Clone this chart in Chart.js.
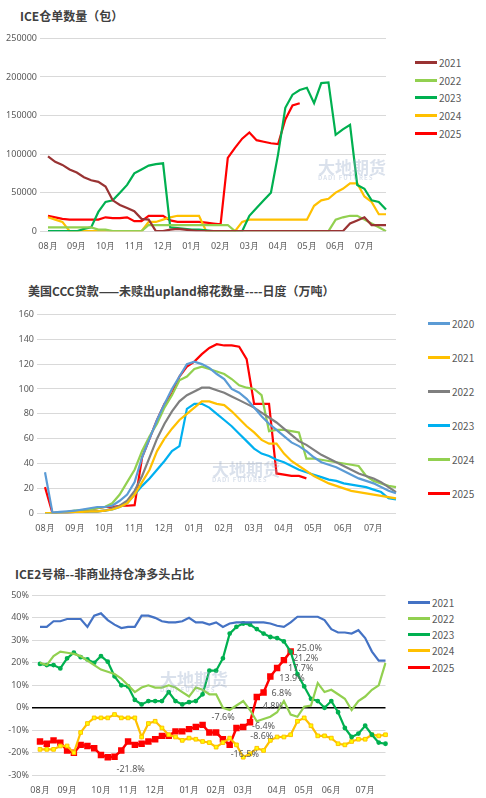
<!DOCTYPE html>
<html>
<head>
<meta charset="utf-8">
<script src="https://cdn.jsdelivr.net/npm/chart.js@4.4.1/dist/chart.umd.min.js"></script>
<style>
  body { margin: 0; background: #fff; font-family: "Noto Sans CJK SC", "Noto Sans", sans-serif; }
  .wrap { position: relative; width: 486px; height: 798px; overflow: hidden; }
  .title { position: absolute; font-size: 12px; font-weight: bold; color: #404040; white-space: nowrap; }
  canvas { position: absolute; }
  .legend { position: absolute; font-size: 10px; color: #595959; }
  .legend div { position: absolute; white-space: nowrap; display: flex; align-items: center; }
  .legend i { display: inline-block; width: 22px; height: 3px; margin-right: 2px; }
  .wm { position: absolute; color: rgba(150,170,200,0.35); font-weight: bold; white-space: nowrap; line-height: 1; }
  .wm small { display: block; font-size: 6px; letter-spacing: 1px; }
</style>
</head>
<body>
<div class="wrap">
  <div class="title" style="left:20px;top:7px">ICE仓单数量（包）</div>
  <canvas id="c1" style="left:0;top:30px" width="392" height="224"></canvas>
  <div class="legend" id="lg1" style="left:415px;top:0"></div>
  <div class="wm" style="left:318px;top:158px;font-size:17px">大地期货<small>DADI FUTURES</small></div>

  <div class="title" style="left:28px;top:282px">美国CCC贷款——未赎出upland棉花数量----日度（万吨）</div>
  <canvas id="c2" style="left:0;top:306px" width="402" height="230"></canvas>
  <div class="legend" id="lg2" style="left:428px;top:0"></div>
  <div class="wm" style="left:212px;top:460px;font-size:17px">大地期货<small>DADI FUTURES</small></div>

  <div class="title" style="left:15px;top:565px">ICE2号棉--非商业持仓净多头占比</div>
  <canvas id="c3" style="left:0;top:587px" width="392" height="211"></canvas>
  <div class="legend" id="lg3" style="left:408px;top:0"></div>
  <div class="wm" style="left:160px;top:670px;font-size:17px">大地期货<small>DADI FUTURES</small></div>
</div>
<script>
const months = ['08月', '09月', '10月', '11月', '12月', '01月', '02月', '03月', '04月', '05月', '06月', '07月'];

// ICE certificated stocks (bales), weekly, Aug -> Jul
const ice2021 = [97000, 90000, 86000, 80000, 76000, 70000, 66000, 64000, 58000, 40000, 34000, 30000, 26000, 16000, 15000, 0, 0, 2000, 3000, 2000, 1000, 0, 0, 0, 0, 0, 0, 0, 0, 0, 0, 0, 0, 0, 0, 0, 0, 0, 0, 0, 0, 0, 10000, 14000, 18000, 8000, 8000, 8000];
const ice2022 = [5000, 5000, 5000, 5000, 5000, 5000, 5000, 2000, 2000, 0, 0, 0, 0, 0, 8000, 8000, 8000, 8000, 8000, 8000, 8000, 8000, 8000, 8000, 8000, 8000, 0, 0, 0, 0, 0, 0, 0, 0, 0, 0, 0, 0, 0, 0, 15000, 18000, 20000, 20000, 15000, 10000, 5000, 0];
const ice2023 = [0, 0, 0, 0, 0, 3000, 5000, 25000, 38000, 40000, 50000, 60000, 75000, 80000, 85000, 87000, 88000, 5000, 4000, 3000, 2000, 2000, 1000, 0, 0, 0, 0, 0, 20000, 30000, 40000, 50000, 100000, 160000, 177000, 183000, 186000, 166000, 192000, 193000, 125000, 132000, 138000, 60000, 55000, 40000, 38000, 28000];
const ice2024 = [18000, 15000, 12000, 0, 0, 0, 0, 0, 0, 0, 0, 0, 0, 0, 12000, 12000, 15000, 18000, 20000, 20000, 20000, 20000, 0, 0, 0, 0, 0, 12000, 15000, 15000, 15000, 15000, 15000, 15000, 15000, 15000, 15000, 33000, 40000, 42000, 50000, 55000, 62000, 62000, 45000, 38000, 22000, 22000];
const ice2025 = [20000, 18000, 16000, 15000, 15000, 15000, 15000, 15000, 18000, 17000, 17000, 18000, 13000, 13000, 20000, 20000, 20000, 14000, 12000, 12000, 12000, 12000, 11000, 10000, 9000, 95000, 108000, 120000, 128000, 118000, 116000, 114000, 113000, 145000, 163000, 166000];

// CCC loans outstanding (10k tons)
const ccc2020 = [33, 0.5, 1, 1.5, 2, 3, 4, 5, 5, 6, 10, 15, 25, 45, 60, 75, 88, 100, 110, 120, 122, 120, 117, 112, 108, 100, 97, 92, 85, 78, 72, 67, 62, 57, 54, 50, 45, 41, 39, 37, 34, 31, 28, 26, 24, 21, 18, 16];
const ccc2021 = [0, 0, 0.5, 0.5, 1, 1, 1.5, 1.5, 2, 3, 5, 8, 15, 25, 35, 50, 60, 68, 75, 80, 85, 90, 90, 88, 87, 82, 76, 70, 65, 59, 56, 56, 48, 42, 38, 34, 30, 27, 24, 22, 20, 18, 17, 16, 15, 14, 13, 12];
const ccc2022 = [0, 0, 0.5, 0.5, 1, 1, 1.5, 1.5, 2, 4, 6, 10, 18, 30, 45, 60, 72, 82, 90, 95, 98, 101, 101, 99, 97, 94, 91, 88, 85, 81, 77, 73, 68, 63, 58, 55, 51, 47, 44, 41, 38, 35, 32, 30, 28, 25, 21, 17];
const ccc2023 = [0, 0, 0.5, 0.5, 1, 1, 1.5, 1.5, 2, 3, 5, 8, 15, 22, 28, 35, 42, 50, 54, 84, 88, 88, 85, 80, 75, 70, 64, 58, 52, 48, 46, 43, 41, 38, 35, 33, 31, 29, 27, 26, 24, 23, 22, 21, 19, 17, 12, 11];
const ccc2024 = [0, 0, 0.5, 1, 2, 2.5, 3, 4, 5, 8, 15, 25, 35, 50, 62, 72, 85, 95, 107, 110, 116, 118, 116, 114, 112, 108, 103, 101, 100, 95, 66, 67, 67, 66, 65, 44, 44, 43, 42, 41, 40, 39, 38, 30, 26, 24, 22, 21];
const ccc2025 = [21, 0, 0.5, 0.5, 1, 2, 3, 4, 5, 5, 6, 6, 6.5, 45, 60, 75, 88, 96, 110, 118, 122, 128, 133, 136, 135, 135, 134, 124, 88, 88, 88, 32, 31, 30, 30, 28];

// ICE No.2 non-commercial net long ratio (%), weekly
const cot2021 = [36, 36, 38.5, 38.5, 39.5, 39.5, 39.5, 36, 41, 42, 39, 37, 35.5, 36, 36, 41, 41, 40, 38.5, 38, 38, 38.5, 40, 38, 38, 37, 38, 36, 37.5, 38, 38, 38, 38, 38, 37.5, 36.5, 36, 38, 40.5, 40.5, 40.5, 40.5, 39, 35, 33.5, 33.5, 33, 34.5, 31, 25, 21, 21];
const cot2022 = [20, 19, 23, 25, 24.5, 24, 23, 21, 19, 17, 16, 15, 13, 10, 7, 9, 10, 9, 9, 10, 9, 7, 5, 9, 8, 6, 6, 0, -1, 1, 3, -1, -6, -5, -4, -2, 3, -3, -4, 0.5, 1, 11, 7, 8, 6, 4, -1, 3, 5, 8, 10, 20];
const cot2023 = [19.5, 19, 19, 17.5, 22, 24.5, 22.5, 21.5, 20, 23, 20.5, 14, 10, 9.5, 3.5, 1.5, 3, 3, 3, 7, 3, 1.5, 2.5, 3, 6, 16.5, 16.5, 22, 33, 36, 37.5, 37, 35, 33, 31.5, 31, 29.5, 25, 15, 9.5, 4, 3, 0, 3, -2, -9, -13, -11.5, -8, -12, -15.5, -16];
const cot2024 = [-18.5, -18.5, -18.5, -17, -17, -20, -11, -7, -4.5, -4.5, -4.5, -3, -4.5, -4.5, -4.5, -13, -7, -6, -9, -12, -13, -14.5, -13.5, -14, -15, -15.5, -17.5, -15.5, -13.5, -16.5, -22, -20.5, -18, -19, -14.5, -13, -13, -12, -6, -4.5, -8, -12.5, -12.5, -13.5, -16, -16.5, -15, -14, -14, -12, -12.5, -12];
const cot2025 = [-15, -16, -14.5, -15.5, -19, -20, -16.5, -17, -18, -21, -22, -21.8, -19, -15, -16.5, -16, -15, -14, -12.5, -12.5, -10.5, -10.5, -9.5, -8.5, -7.6, -11, -11, -14, -16.5, -9, -8.6, -6.4, 4.8, 6.8, 13.9, 17.7, 21.2, 25.0];
const cot2025Labelled = [11, 24, 28, 30, 31, 32, 33, 34, 35, 36, 37];

// label offsets (px) for 2025 data labels
const labelOffsets = {11: [2, 13], 24: [9, -7], 28: [1, 10], 30: [7, 9], 31: [2, 4], 32: [6, 9], 33: [8, 1], 34: [9, 2], 35: [11, 0], 36: [9, -2], 37: [6, -3]};

function weekLabels(n) {
    const labels = new Array(n).fill('');
    months.forEach((m, i) => { labels[Math.round(i * n / 12)] = m; });
    return labels;
}

const tickFont = { family: 'Noto Sans', size: 9 };
const gridColor = '#d9d9d9';

function line(label, data, color, extra) {
    return Object.assign({
        label: label, data: data, borderColor: color, backgroundColor: color,
        borderWidth: 2.2, pointRadius: 0, tension: 0, fill: false
    }, extra || {});
}

function baseOptions(yOpts, yWidth) {
    return {
        responsive: false,
        animation: false,
        layout: { padding: { top: 6, right: 6 } },
        plugins: { legend: { display: false }, tooltip: { enabled: false } },
        scales: {
            x: {
                grid: { display: false },
                border: { display: false },
                ticks: { autoSkip: false, maxRotation: 0, color: '#595959', font: tickFont, padding: 2 }
            },
            y: Object.assign({
                border: { display: false },
                afterFit: (s) => { s.width = yWidth; }
            }, yOpts)
        }
    };
}

function buildLegend(id, datasets, tops) {
    const el = document.getElementById(id);
    datasets.forEach((d, i) => {
        const row = document.createElement('div');
        row.style.top = tops[i] + 'px';
        row.innerHTML = `<i style="background:${d.borderColor}"></i>${d.label}`;
        el.appendChild(row);
    });
}

// chart 1
const ds1 = [
    line('2021', ice2021, '#993333'),
    line('2022', ice2022, '#92d050'),
    line('2023', ice2023, '#00b050'),
    line('2024', ice2024, '#ffc000'),
    line('2025', ice2025, '#ff0000')
];
new Chart(document.getElementById('c1'), {
    type: 'line',
    data: { labels: weekLabels(48), datasets: ds1 },
    options: baseOptions({
        min: 0, max: 250000,
        grid: { color: gridColor },
        ticks: { stepSize: 50000, color: '#595959', font: tickFont, callback: (v) => String(v) }
    }, 48)
});
buildLegend('lg1', ds1, [55, 73, 90, 108, 126]);

// chart 2
const ds2 = [
    line('2020', ccc2020, '#5b9bd5'),
    line('2021', ccc2021, '#ffc000'),
    line('2022', ccc2022, '#7f7f7f'),
    line('2023', ccc2023, '#00b0f0'),
    line('2024', ccc2024, '#92d050'),
    line('2025', ccc2025, '#ff0000')
];
new Chart(document.getElementById('c2'), {
    type: 'line',
    data: { labels: weekLabels(48), datasets: ds2 },
    options: baseOptions({
        min: 0, max: 160,
        grid: { color: gridColor },
        ticks: { stepSize: 20, color: '#595959', font: tickFont }
    }, 45)
});
buildLegend('lg2', ds2, [316, 350, 384, 418, 452, 486]);

// chart 3
const ds3 = [
    line('2021', cot2021, '#4472c4'),
    line('2022', cot2022, '#92d050'),
    line('2023', cot2023, '#00b050', { pointRadius: 1.3, pointStyle: 'circle' }),
    line('2024', cot2024, '#ffc000', { pointRadius: 2.6, pointStyle: 'rect', pointBackgroundColor: '#ffff00', pointBorderColor: '#ffc000', pointBorderWidth: 1 }),
    line('2025', cot2025, '#ff0000', { pointRadius: 2.8, pointStyle: 'rect', borderWidth: 2.5 })
];

const pointLabels = {
    id: 'pointLabels',
    afterDatasetsDraw(chart) {
        const ctx = chart.ctx;
        const meta = chart.getDatasetMeta(4);
        ctx.save();
        ctx.font = '9px "Noto Sans"';
        ctx.fillStyle = '#595959';
        ctx.textBaseline = 'middle';
        ctx.textAlign = 'left';
        cot2025Labelled.forEach(i => {
            const p = meta.data[i];
            const off = labelOffsets[i];
            ctx.fillText(cot2025[i].toFixed(1) + '%', p.x + off[0], p.y + off[1]);
        });
        ctx.restore();
    }
};

const opt3 = baseOptions({
    min: -30, max: 50,
    grid: {
        color: (c) => c.tick.value === 0 ? '#000000' : gridColor,
        lineWidth: (c) => c.tick.value === 0 ? 1.5 : 1
    },
    ticks: { stepSize: 10, color: '#595959', font: tickFont, callback: (v) => v + '%' }
}, 40);
new Chart(document.getElementById('c3'), {
    type: 'line',
    data: { labels: weekLabels(52), datasets: ds3 },
    options: opt3,
    plugins: [pointLabels]
});
buildLegend('lg3', ds3, [595, 611, 627, 643, 660]);
</script>
</body>
</html>
